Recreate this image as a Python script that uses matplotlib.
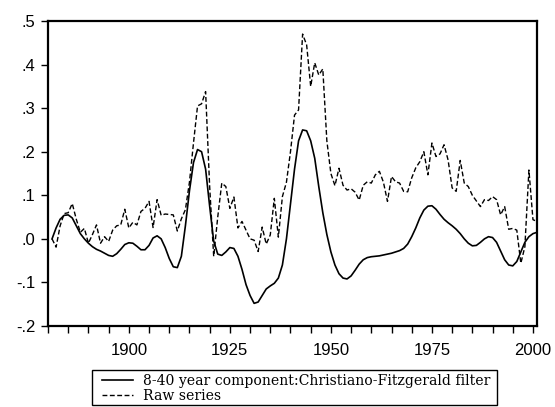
import matplotlib
matplotlib.use("Agg")
import matplotlib.pyplot as plt
from matplotlib.ticker import FuncFormatter, MultipleLocator
from matplotlib.patches import Rectangle

years = list(range(1881, 2002))

cf_component = [
    0.000, 0.025, 0.045, 0.054, 0.055, 0.048, 0.030, 0.012, 0.000, -0.010,   # 1881-1890
    -0.018, -0.024, -0.028, -0.033, -0.038, -0.040, -0.034, -0.024, -0.013, -0.009,  # 1891-1900
    -0.010, -0.017, -0.025, -0.025, -0.015, 0.002, 0.007, 0.000, -0.020, -0.045,  # 1901-1910
    -0.064, -0.066, -0.040, 0.030, 0.110, 0.175, 0.205, 0.200, 0.160, 0.075,  # 1911-1920
    -0.005, -0.035, -0.038, -0.030, -0.020, -0.022, -0.040, -0.070, -0.105, -0.130,  # 1921-1930
    -0.148, -0.145, -0.130, -0.115, -0.108, -0.102, -0.090, -0.060, 0.000, 0.080,  # 1931-1940
    0.160, 0.225, 0.250, 0.248, 0.225, 0.185, 0.120, 0.060, 0.010, -0.030,  # 1941-1950
    -0.060, -0.080, -0.090, -0.092, -0.085, -0.072, -0.058, -0.048, -0.043, -0.041,  # 1951-1960
    -0.040, -0.039, -0.037, -0.035, -0.033, -0.030, -0.027, -0.022, -0.012, 0.005,  # 1961-1970
    0.025, 0.048, 0.066, 0.075, 0.076, 0.068, 0.056, 0.045, 0.037, 0.030,  # 1971-1980
    0.022, 0.012, 0.000, -0.010, -0.016, -0.015, -0.008, 0.000, 0.005, 0.003,  # 1981-1990
    -0.008, -0.028, -0.048, -0.060, -0.062, -0.052, -0.030, -0.008, 0.005, 0.012,  # 1991-2000
    0.015,  # 2001
]

raw_series = [
    0.000, -0.019, 0.030, 0.058, 0.060, 0.081, 0.045, 0.015, 0.024, -0.010,  # 1881-1890
    0.010, 0.032, -0.010, 0.005, -0.006, 0.020, 0.030, 0.032, 0.068, 0.025,  # 1891-1900
    0.038, 0.032, 0.063, 0.070, 0.086, 0.026, 0.090, 0.054, 0.057, 0.056,  # 1901-1910
    0.055, 0.018, 0.046, 0.067, 0.130, 0.220, 0.305, 0.310, 0.338, 0.120,  # 1911-1920
    -0.040, 0.050, 0.128, 0.120, 0.070, 0.096, 0.025, 0.040, 0.020, 0.000,  # 1921-1930
    -0.003, -0.029, 0.027, -0.012, 0.009, 0.093, 0.004, 0.097, 0.130, 0.200,  # 1931-1940
    0.284, 0.296, 0.470, 0.445, 0.350, 0.404, 0.376, 0.390, 0.225, 0.150,  # 1941-1950
    0.122, 0.162, 0.123, 0.112, 0.115, 0.107, 0.089, 0.123, 0.131, 0.128,  # 1951-1960
    0.147, 0.155, 0.130, 0.086, 0.143, 0.131, 0.128, 0.109, 0.108, 0.140,  # 1961-1970
    0.163, 0.177, 0.200, 0.147, 0.220, 0.189, 0.195, 0.216, 0.181, 0.117,  # 1971-1980
    0.109, 0.180, 0.128, 0.120, 0.100, 0.087, 0.074, 0.090, 0.088, 0.097,  # 1981-1990
    0.090, 0.055, 0.074, 0.022, 0.024, 0.020, -0.056, -0.018, 0.158, 0.044,  # 1991-2000
    0.040,  # 2001
]

labels = ["8-40 year component:Christiano-Fitzgerald filter", "Raw series"]

W, H = 555, 407
fig = plt.figure(figsize=(W / 100, H / 100), dpi=100)
ax = fig.add_axes([48 / W, 1 - 326 / H, (537 - 48) / W, (326 - 21) / H])

l1, = ax.plot(years, cf_component, color="black", lw=1.2, solid_joinstyle="round")
l2, = ax.plot(years, raw_series, color="black", lw=1.0, dashes=(3.5, 1.8))

ax.set_xlim(1880, 2001)
ax.set_ylim(-0.2, 0.5)
ax.xaxis.set_major_locator(MultipleLocator(25))
ax.xaxis.set_minor_locator(MultipleLocator(5))
ax.yaxis.set_major_locator(MultipleLocator(0.1))


def yfmt(v, pos):
    s = f"{v:.1f}"
    if s.startswith("-0"):
        s = "-" + s[2:]
    elif s.startswith("0"):
        s = s[1:]
    return s


ax.yaxis.set_major_formatter(FuncFormatter(yfmt))
for sp in ax.spines.values():
    sp.set_linewidth(1.6)
ax.tick_params(axis="both", which="major", direction="out", length=5, width=1.0,
               labelsize=12)
ax.tick_params(axis="x", which="major", pad=7)
ax.tick_params(axis="y", which="major", pad=4)
ax.tick_params(axis="x", which="minor", direction="out", length=5, width=1.0)
for t in ax.get_xticklabels() + ax.get_yticklabels():
    t.set_fontfamily("Liberation Sans")

# legend frame drawn as a box below the plot
fig.patches.append(Rectangle((92 / W, 1 - 405 / H), (497 - 92) / W, (405 - 370) / H,
                             transform=fig.transFigure, fill=False,
                             edgecolor="black", lw=1.0))
leg = fig.legend([l1, l2], labels, loc="upper left",
                 bbox_to_anchor=(102 / W, 1 - 374 / H), ncol=1, frameon=False,
                 prop={"family": "DejaVu Serif", "size": 10.1},
                 handlelength=2.2, handletextpad=0.7, borderpad=0,
                 labelspacing=0.05, borderaxespad=0)

fig.savefig("out.png", dpi=100)
